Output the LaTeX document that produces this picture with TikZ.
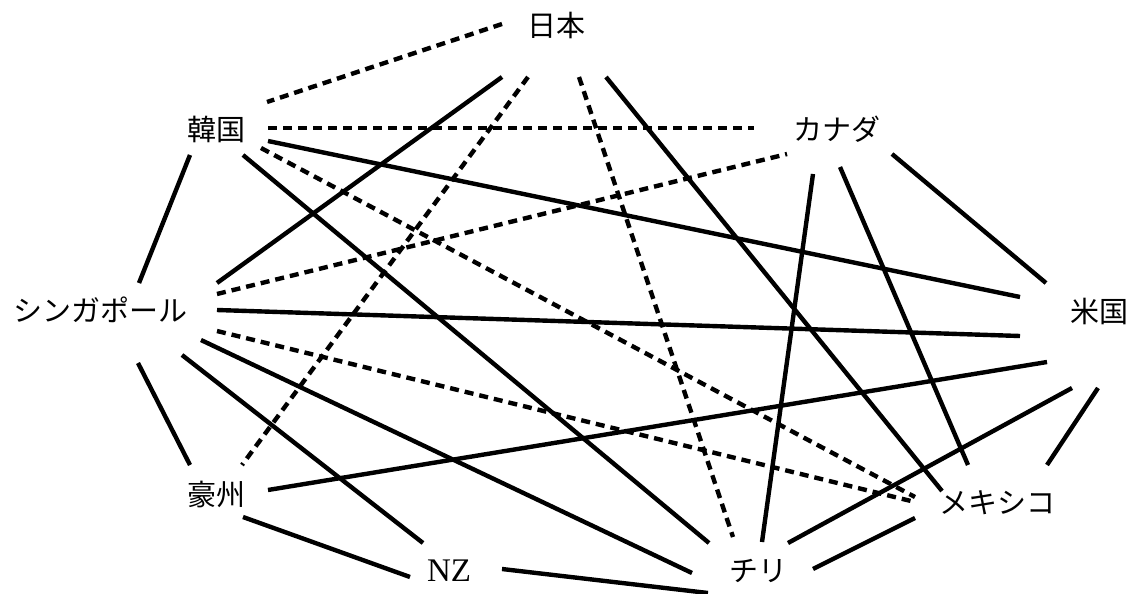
\documentclass[tikz,border=0pt]{standalone}
\usepackage{fontspec}
\setmainfont{Liberation Serif}
\newfontfamily\cjk{Noto Sans CJK JP}
\begin{document}
\begin{tikzpicture}[x=1pt,y=-1pt,
  lbl/.style={inner sep=0pt,anchor=center,font=\fontsize{29}{34}\selectfont\cjk},
  lbllat/.style={inner sep=0pt,anchor=center,font=\fontsize{33}{38}\selectfont},
  tie/.style={line width=4.4pt,line cap=butt},
  weak/.style={line width=4.4pt,line cap=butt,dash pattern=on 9pt off 6pt}]
\useasboundingbox (0,0) rectangle (1130,594);
\node[lbl] (jp) at (556,25) {日本};
\node[lbl] (kr) at (216,129) {韓国};
\node[lbl] (ca) at (837,129) {カナダ};
\node[lbl] (sg) at (100,310) {シンガポール};
\node[lbl] (us) at (1099,311) {米国};
\node[lbl] (au) at (216,494) {豪州};
\node[lbl] (mx) at (997,503) {メキシコ};
\node[lbllat] (nz) at (449,571) {NZ};
\node[lbl] (cl) at (758,571) {チリ};
% dashed connectors
\draw[weak] ([shift={(-54,-1)}]jp.center) -- ([shift={(51,-27)}]kr.center);
\draw[weak] ([shift={(52,-1)}]kr.center) -- ([shift={(-83,-1)}]ca.center);
\draw[weak] ([shift={(45,19)}]kr.center) -- ([shift={(-82,-6)}]mx.center);
\draw[weak] ([shift={(117,-16)}]sg.center) -- ([shift={(-50,25)}]ca.center);
\draw[weak] ([shift={(117,21)}]sg.center) -- ([shift={(-82,-1)}]mx.center);
\draw[weak] ([shift={(-28,52)}]jp.center) -- ([shift={(26,-29)}]au.center);
\draw[weak] ([shift={(23,52)}]jp.center) -- ([shift={(-25,-34)}]cl.center);
% solid connectors
\draw[tie] ([shift={(-54,52)}]jp.center) -- ([shift={(117,-27)}]sg.center);
\draw[tie] ([shift={(50,52)}]jp.center) -- ([shift={(-55,-12)}]mx.center);
\draw[tie] ([shift={(52,12)}]kr.center) -- ([shift={(-79,-14)}]us.center);
\draw[tie] ([shift={(27,26)}]kr.center) -- ([shift={(-49,-28)}]cl.center);
\draw[tie] ([shift={(-26,26)}]kr.center) -- ([shift={(39,-27)}]sg.center);
\draw[tie] ([shift={(55,25)}]ca.center) -- ([shift={(-53,-28)}]us.center);
\draw[tie] ([shift={(-24,45)}]ca.center) -- ([shift={(4,-29)}]cl.center);
\draw[tie] ([shift={(3,38)}]ca.center) -- ([shift={(-29,-38)}]mx.center);
\draw[tie] ([shift={(117,0)}]sg.center) -- ([shift={(-79,25)}]us.center);
\draw[tie] ([shift={(101,30)}]sg.center) -- ([shift={(-66,2)}]cl.center);
\draw[tie] ([shift={(82,45)}]sg.center) -- ([shift={(-26,-28)}]nz.center);
\draw[tie] ([shift={(38,53)}]sg.center) -- ([shift={(-26,-29)}]au.center);
\draw[tie] ([shift={(52,-4)}]au.center) -- ([shift={(-52,51)}]us.center);
\draw[tie] ([shift={(27,23)}]au.center) -- ([shift={(-39,6)}]nz.center);
\draw[tie] ([shift={(53,-2)}]nz.center) -- ([shift={(-50,22)}]cl.center);
\draw[tie] ([shift={(30,-28)}]cl.center) -- ([shift={(-27,77)}]us.center);
\draw[tie] ([shift={(55,-2)}]cl.center) -- ([shift={(-82,15)}]mx.center);
\draw[tie] ([shift={(-1,77)}]us.center) -- ([shift={(50,-38)}]mx.center);
\end{tikzpicture}
\end{document}
